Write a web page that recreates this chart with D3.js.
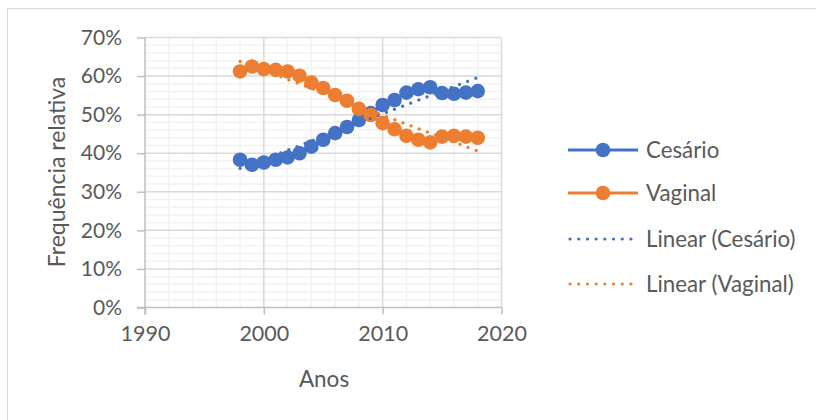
<!DOCTYPE html>
<html>
<head>
<meta charset="utf-8">
<script src="https://cdn.jsdelivr.net/npm/d3@7"></script>
<style>
  body { margin: 0; background: #fff; }
  text { font-family: Lato, "Open Sans", sans-serif; fill: #595959; }
</style>
</head>
<body>
<svg id="chart" width="816" height="420"></svg>
<script>
const anos = d3.range(1998, 2019);
const cesario = [38.3, 37.0, 37.6, 38.3, 38.9, 40.0, 41.7, 43.5, 45.2, 46.8, 48.6,
                 50.4, 52.5, 53.8, 55.7, 56.6, 57.1, 55.6, 55.4, 55.7, 56.1];
const vaginal = [61.2, 62.5, 61.8, 61.6, 61.2, 60.1, 58.3, 56.9, 55.1, 53.6, 51.5,
                 49.9, 47.8, 46.2, 44.5, 43.5, 42.8, 44.3, 44.5, 44.3, 44.0];
const seriesNames = ["Cesário", "Vaginal"];
const seriesColors = ["#4472C4", "#ED7D31"];
const xTicks = [1990, 2000, 2010, 2020];
const yTicks = [0, 10, 20, 30, 40, 50, 60, 70];

const svg = d3.select("#chart");
const x = d3.scaleLinear().domain([1990, 2020]).range([145, 501.5]);
const y = d3.scaleLinear().domain([0, 70]).range([307.5, 37.5]);

// chart border
svg.append("rect").attr("x", 7.5).attr("y", 8.5).attr("width", 900).attr("height", 500)
    .attr("fill", "none").attr("stroke", "#d9d9d9");

// minor grid
const grid = svg.append("g");
grid.selectAll(".mx").data(d3.range(1992, 2020, 2).filter(d => d % 10))
    .enter().append("line")
    .attr("x1", d => x(d)).attr("x2", d => x(d))
    .attr("y1", y(70)).attr("y2", y(0))
    .attr("stroke", "#f2f2f2").attr("stroke-width", 1.5);
grid.selectAll(".my").data(d3.range(2, 70, 2).filter(d => d % 10))
    .enter().append("line")
    .attr("x1", x(1990)).attr("x2", x(2020))
    .attr("y1", d => y(d)).attr("y2", d => y(d))
    .attr("stroke", "#f2f2f2").attr("stroke-width", 1.5);
// major grid
grid.selectAll(".Mx").data(xTicks.slice(1))
    .enter().append("line")
    .attr("x1", d => x(d)).attr("x2", d => x(d))
    .attr("y1", y(70)).attr("y2", y(0))
    .attr("stroke", "#d9d9d9").attr("stroke-width", 1.5);
grid.selectAll(".My").data(yTicks.slice(1))
    .enter().append("line")
    .attr("x1", x(1990)).attr("x2", x(2020))
    .attr("y1", d => y(d)).attr("y2", d => y(d))
    .attr("stroke", "#d9d9d9").attr("stroke-width", 1.5);

// axes
const xAxis = svg.append("g").attr("transform", `translate(0,${y(0)})`)
    .call(d3.axisBottom(x).tickValues(xTicks).tickFormat(d3.format("d")).tickSize(7).tickPadding(11).tickSizeOuter(0));
const yAxis = svg.append("g").attr("transform", `translate(${x(1990)},0)`)
    .call(d3.axisLeft(y).tickValues(yTicks).tickFormat(d => d + "%").tickSize(8).tickPadding(15).tickSizeOuter(0));
[xAxis, yAxis].forEach(a => {
  a.select(".domain").attr("stroke", "#bfbfbf").attr("stroke-width", 1.5);
  a.selectAll(".tick line").attr("stroke", "#bfbfbf").attr("stroke-width", 1.5);
  a.selectAll(".tick text").attr("font-size", 21).attr("fill", "#595959")
    .style("font-family", "Lato, 'Open Sans', sans-serif");
});
xAxis.selectAll(".tick text").attr("font-size", 21.5);
xAxis.select(".domain").attr("d", `M${x(1990) - 8},0H${x(2020)}`);
yAxis.select(".domain").attr("d", `M0,${y(70)}V${y(0) + 7}`);

// axis titles
svg.append("text").attr("x", 324).attr("y", 387).attr("text-anchor", "middle")
    .attr("font-size", 22.5).text("Anos");
svg.append("text").attr("transform", "translate(65,172) rotate(-90)")
    .attr("text-anchor", "middle").attr("font-size", 23).text("Frequência relativa");

// series
const data = [cesario, vaginal];
data.forEach((vals, i) => {
  const pts = anos.map((a, j) => [a, vals[j]]);
  svg.append("path").datum(pts)
      .attr("d", d3.line().x(d => x(d[0])).y(d => y(d[1])))
      .attr("fill", "none").attr("stroke", seriesColors[i]).attr("stroke-width", 3);
  svg.append("g").selectAll("circle").data(pts).enter().append("circle")
      .attr("cx", d => x(d[0])).attr("cy", d => y(d[1])).attr("r", 7.3)
      .attr("fill", seriesColors[i]);
});

// linear trendlines
data.forEach((vals, i) => {
  const mx = d3.mean(anos), my = d3.mean(vals);
  const b = d3.sum(anos, (a, j) => (a - mx) * (vals[j] - my)) / d3.sum(anos, a => (a - mx) ** 2);
  const a0 = my - b * mx;
  const ends = [anos[0], anos[anos.length - 1]];
  svg.append("line")
      .attr("x1", x(ends[0])).attr("y1", y(a0 + b * ends[0]))
      .attr("x2", x(ends[1])).attr("y2", y(a0 + b * ends[1]))
      .attr("stroke", seriesColors[i]).attr("stroke-width", 3.2)
      .attr("stroke-linecap", "round").attr("stroke-dasharray", "0.1 8.6");
});

// legend
const legendItems = [
  { name: seriesNames[0], color: seriesColors[0], trend: false },
  { name: seriesNames[1], color: seriesColors[1], trend: false },
  { name: "Linear (" + seriesNames[0] + ")", color: seriesColors[0], trend: true },
  { name: "Linear (" + seriesNames[1] + ")", color: seriesColors[1], trend: true }
];
const legendY = [150, 193, 239, 284];
const lg = svg.append("g").selectAll("g").data(legendItems).enter().append("g")
    .attr("transform", (d, i) => `translate(0,${legendY[i]})`);
lg.append("line").attr("x1", d => d.trend ? 570 : 568).attr("x2", 638)
    .attr("stroke", d => d.color)
    .attr("stroke-width", d => d.trend ? 3.2 : 3)
    .attr("stroke-linecap", d => d.trend ? "round" : "butt")
    .attr("stroke-dasharray", d => d.trend ? "0.1 8.6" : null);
lg.filter(d => !d.trend).append("circle").attr("cx", 603).attr("r", 7.3).attr("fill", d => d.color);
lg.append("text").attr("x", 646).attr("y", 7.5).attr("font-size", 22.3).text(d => d.name);
</script>
</body>
</html>
